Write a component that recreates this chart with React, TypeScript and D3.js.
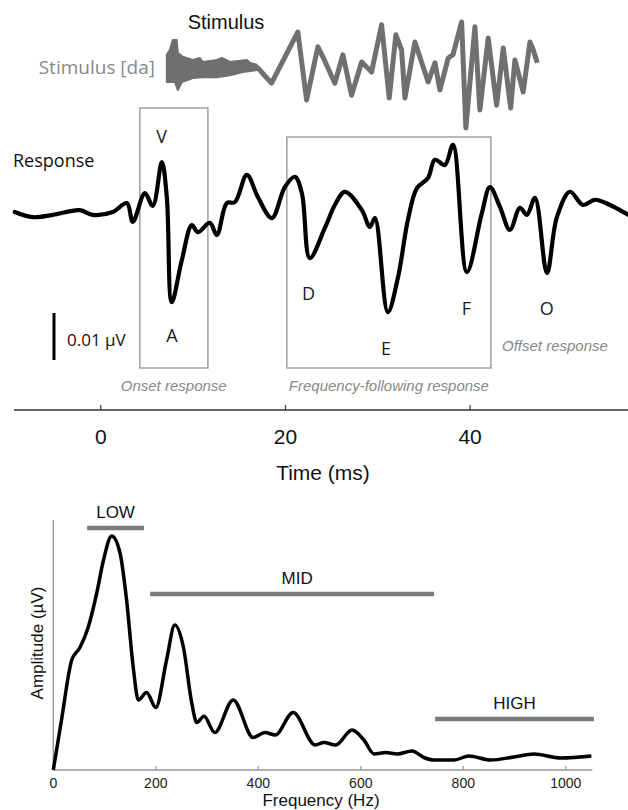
import { useEffect, useRef } from "react";
import * as d3 from "d3";

// stimulus [da]: dense onset burst (upper / lower edge), then the waveform; time in ms
const burstUpperTime = [7.15, 7.48, 7.8, 8.23, 8.34, 8.88, 9.97, 10.73, 11.05, 12.57, 13.11, 13.98, 15.82, 16.14, 16.9];
const burstUpper = [0.33, 0.45, 0.7, 0.7, 0.38, 0.28, 0.2, 0.25, 0.15, 0.2, 0.25, 0.15, 0.2, 0.13, 0.08];
const burstLowerTime = [7.15, 8.02, 8.34, 8.78, 9.97, 11.05, 12.57, 13.98, 15.38, 16.9];
const burstLower = [-0.35, -0.35, -0.55, -0.35, -0.25, -0.23, -0.23, -0.18, -0.1, -0.05];

const stimTime = [16.9, 17.6, 18.49, 21.34, 22.29, 23.51, 24.05, 25.35, 26.22, 27.16, 28.25, 29.33, 30.41, 31.24, 31.96, 32.58, 32.94, 34.02, 35.46, 36.19, 36.73, 37.63, 38.14, 39.08, 39.54, 40.52, 41.06, 41.96, 42.87, 43.59, 44.39, 44.85, 45.75, 46.48, 46.84, 47.27];
const stimValue = [0.03, -0.15, -0.38, 0.9, -0.8, 0.53, 0.28, -0.38, 0.33, -0.68, 0.15, -0.1, 1.08, -0.75, 0.83, 0.45, -0.75, 0.65, -0.35, 0.13, -0.55, 0.25, 0.33, 1.15, -1.5, 1.03, -1.05, 0.75, -0.93, 0.5, -1.0, 0.2, -0.6, 0.65, 0.45, 0.13];

// response (µV)
const respTime = [-9.32, -7.37, -5.2, -2.28, -0.87, 1.3, 2.82, 3.47, 4.77, 5.63, 6.61, 7.15, 7.69, 8.78, 9.86, 10.51, 11.81, 12.57, 13.65, 14.52, 15.82, 17.01, 18.53, 19.93, 21.02, 21.78, 22.64, 24.27, 25.35, 26.44, 28.28, 29.14, 29.69, 31.09, 32.18, 33.26, 34.24, 35.43, 36.19, 37.27, 38.14, 39.65, 41.28, 42.14, 43.23, 44.31, 45.4, 46.15, 47.02, 48.32, 49.4, 50.81, 52.22, 53.52, 55.15, 56.77, 57.1];
const respValue = [0, -0.0011, -0.0006, 0.0004, -0.0006, 0, 0.0019, -0.0021, 0.004, 0.0013, 0.0106, 0.0032, -0.0192, -0.0102, -0.0028, -0.0043, -0.0023, -0.0049, 0.0019, 0.0021, 0.0079, 0.0032, -0.0013, 0.0053, 0.0075, 0.004, -0.0098, -0.0034, 0.0015, 0.0043, 0.0004, -0.0032, -0.0013, -0.0213, -0.014, -0.0017, 0.0051, 0.0072, 0.0111, 0.01, 0.0143, -0.0128, -0.0002, 0.0053, 0.0011, -0.0038, 0.0009, -0.0006, 0.003, -0.013, -0.0011, 0.0043, 0.0015, 0.0026, 0.0015, -0.0002, -0.0006];

const peakNames = ["V", "A", "D", "E", "F", "O"];
const timeTicks = [0, 20, 40];

// spectrum
const freqHz = [0, 16, 36, 52, 68, 85, 98, 114, 130, 143, 156, 166, 182, 200, 221, 237, 254, 270, 280, 294, 315, 351, 390, 413, 433, 468, 511, 528, 551, 583, 606, 626, 649, 671, 700, 723, 743, 782, 811, 853, 899, 938, 990, 1050];
const amplitude = [0, 20, 44, 49, 57, 71, 84, 93.6, 87, 68, 41, 28, 31, 25, 44, 58, 49, 27, 19, 21.5, 15, 28, 13, 15, 14, 23, 10, 11, 10, 16, 12, 6.4, 7, 6.4, 7.6, 5, 4, 4, 5.6, 4, 5.2, 6.4, 4.8, 5.6];
const freqTicks = [0, 200, 400, 600, 800, 1000];

const bandNames = ["LOW", "MID", "HIGH"];
const bandStart = [66, 189, 745];
const bandEnd = [177, 743, 1055];
const bandLevel = [96.8, 70.4, 20.4];

const W = 628;
const H = 810;
const ARIAL = "'Liberation Sans', Arial, sans-serif";
const OPEN = "'Open Sans', 'DejaVu Sans', sans-serif";

export default function App() {
    const svgRef = useRef<SVGSVGElement>(null);

    useEffect(() => {
        const svg = d3.select(svgRef.current);
        svg.selectAll("*").remove();

        const x = d3.scaleLinear().domain([-9.4, 57.1]).range([14, 628]);
        const yStim = d3.scaleLinear().domain([-1.5, 1.15]).range([128, 22]);
        const yResp = d3.scaleLinear().domain([0, 0.01]).range([212, 165]);

        // ---- stimulus
        svg.append("text")
            .attr("x", 226).attr("y", 22)
            .attr("text-anchor", "middle").attr("dominant-baseline", "central")
            .attr("font-family", ARIAL).attr("font-size", 20).attr("fill", "#111")
            .text("Stimulus");
        svg.append("text")
            .attr("x", 155).attr("y", 67)
            .attr("text-anchor", "end").attr("dominant-baseline", "central")
            .attr("font-family", OPEN).attr("font-size", 19).attr("fill", "#888")
            .text("Stimulus  [da]");

        // burst outline: upper edge forward, lower edge back
        const burst = [
            ...burstUpperTime.map((t, i) => [t, burstUpper[i]]),
            ...burstLowerTime.map((t, i) => [t, burstLower[i]]).reverse(),
        ];
        svg.append("path")
            .datum(burst)
            .attr("d", d3.line<any>().x((d) => x(d[0])).y((d) => yStim(d[1])).curve(d3.curveLinearClosed))
            .attr("fill", "#6f6f6f").attr("stroke", "#6f6f6f").attr("stroke-width", 2)
            .attr("stroke-linejoin", "round");

        const stim = stimTime.map((t, i) => ({ t, v: stimValue[i] }));
        svg.append("path")
            .datum(stim)
            .attr("d", d3.line<any>().x((d) => x(d.t)).y((d) => yStim(d.v)))
            .attr("fill", "none").attr("stroke", "#707070").attr("stroke-width", 5)
            .attr("stroke-linejoin", "round");

        // ---- boxes
        const boxes = [
            { t0: 4.23, t1: 11.6, top: 108 },
            { t0: 20.15, t1: 42.25, top: 137 },
        ];
        svg.selectAll(".box").data(boxes).enter().append("rect")
            .attr("x", (d) => x(d.t0)).attr("y", (d) => d.top)
            .attr("width", (d) => x(d.t1) - x(d.t0)).attr("height", (d) => 368 - d.top)
            .attr("fill", "none").attr("stroke", "#a0a0a0").attr("stroke-width", 1.5);

        // ---- response
        svg.append("text")
            .attr("x", 13).attr("y", 160)
            .attr("dominant-baseline", "central")
            .attr("font-family", OPEN).attr("font-size", 18).attr("fill", "#111")
            .text("Response");

        const resp = respTime.map((t, i) => ({ t, v: respValue[i] }));
        svg.append("path")
            .datum(resp)
            .attr("d", d3.line<any>().x((d) => x(d.t)).y((d) => yResp(d.v)).curve(d3.curveCatmullRom.alpha(0.5)))
            .attr("fill", "none").attr("stroke", "#000").attr("stroke-width", 4.2)
            .attr("stroke-linejoin", "round").attr("stroke-linecap", "round");

        const peakPos = [
            { t: 6.6, y: 136 }, { t: 7.7, y: 335 }, { t: 22.5, y: 293 },
            { t: 30.9, y: 348 }, { t: 39.6, y: 308 }, { t: 48.3, y: 308 },
        ];
        svg.selectAll(".peak").data(peakNames).enter().append("text")
            .attr("x", (d, i) => x(peakPos[i].t)).attr("y", (d, i) => peakPos[i].y)
            .attr("text-anchor", "middle").attr("dominant-baseline", "central")
            .attr("font-family", OPEN).attr("font-size", 18).attr("fill", "#1a1a1a")
            .text((d) => d);

        // scale bar 0.01 µV
        svg.append("line")
            .attr("x1", 54).attr("x2", 54)
            .attr("y1", 360).attr("y2", 360 - (yResp(0) - yResp(0.01)))
            .attr("stroke", "#000").attr("stroke-width", 3);
        svg.append("text")
            .attr("x", 67).attr("y", 339)
            .attr("dominant-baseline", "central")
            .attr("font-family", OPEN).attr("font-size", 17).attr("fill", "#111")
            .text("0.01 µV");

        const italic = (tx: number, ty: number, s: string, anchor = "start") =>
            svg.append("text")
                .attr("x", tx).attr("y", ty)
                .attr("text-anchor", anchor).attr("dominant-baseline", "central")
                .attr("font-family", ARIAL).attr("font-style", "italic")
                .attr("font-size", 15).attr("fill", "#888")
                .text(s);
        italic(x(7.9), 385, "Onset response", "middle");
        italic(x(31.2), 385, "Frequency-following response", "middle");
        italic(502, 345, "Offset response");

        // time axis
        const ax = svg.append("g").attr("transform", "translate(0,410)");
        ax.append("line").attr("x1", 14).attr("x2", 628).attr("stroke", "#333").attr("stroke-width", 1.5);
        ax.selectAll(".tk").data(timeTicks).enter().append("line")
            .attr("x1", (d) => x(d)).attr("x2", (d) => x(d)).attr("y1", 0).attr("y2", -5)
            .attr("stroke", "#333").attr("stroke-width", 1.2);
        ax.selectAll(".tl").data(timeTicks).enter().append("text")
            .attr("x", (d) => x(d)).attr("y", 26)
            .attr("text-anchor", "middle").attr("dominant-baseline", "central")
            .attr("font-family", ARIAL).attr("font-size", 21).attr("fill", "#111")
            .text((d) => d);
        svg.append("text")
            .attr("x", 323).attr("y", 472)
            .attr("text-anchor", "middle").attr("dominant-baseline", "central")
            .attr("font-family", ARIAL).attr("font-size", 21).attr("fill", "#111")
            .text("Time (ms)");

        // ---- spectrum
        const xf = d3.scaleLinear().domain([0, 1050]).range([53.3, 591.4]);
        const ya = d3.scaleLinear().domain([0, 100]).range([770, 520]);

        svg.append("line").attr("x1", xf(0)).attr("x2", xf(0)).attr("y1", ya(0)).attr("y2", ya(100))
            .attr("stroke", "#999").attr("stroke-width", 1.5);
        svg.append("line").attr("x1", xf(0)).attr("x2", xf(1050) + 1).attr("y1", ya(0)).attr("y2", ya(0))
            .attr("stroke", "#999").attr("stroke-width", 1.5);
        svg.selectAll(".ftk").data(freqTicks.slice(1)).enter().append("line")
            .attr("x1", (d) => xf(d)).attr("x2", (d) => xf(d))
            .attr("y1", ya(0)).attr("y2", ya(0) - 4)
            .attr("stroke", "#999").attr("stroke-width", 1.2);
        svg.selectAll(".ftl").data(freqTicks).enter().append("text")
            .attr("x", (d) => xf(d)).attr("y", 783)
            .attr("text-anchor", "middle").attr("dominant-baseline", "central")
            .attr("font-family", ARIAL).attr("font-size", 14).attr("fill", "#222")
            .text((d) => d);
        svg.append("text")
            .attr("x", 321).attr("y", 800)
            .attr("text-anchor", "middle").attr("dominant-baseline", "central")
            .attr("font-family", ARIAL).attr("font-size", 17).attr("fill", "#111")
            .text("Frequency (Hz)");
        svg.append("text")
            .attr("transform", "translate(37,643) rotate(-90)")
            .attr("text-anchor", "middle").attr("dominant-baseline", "central")
            .attr("font-family", ARIAL).attr("font-size", 17).attr("fill", "#111")
            .text("Amplitude (µV)");

        // frequency bands
        bandNames.forEach((name, i) => {
            svg.append("line")
                .attr("x1", xf(bandStart[i])).attr("x2", xf(bandEnd[i]))
                .attr("y1", ya(bandLevel[i])).attr("y2", ya(bandLevel[i]))
                .attr("stroke", "#7a7a7a").attr("stroke-width", 4.5);
            svg.append("text")
                .attr("x", (xf(bandStart[i]) + xf(bandEnd[i])) / 2 + (i === 1 ? 5 : 0))
                .attr("y", ya(bandLevel[i]) - 16)
                .attr("text-anchor", "middle").attr("dominant-baseline", "central")
                .attr("font-family", ARIAL).attr("font-size", 17).attr("fill", "#111")
                .text(name);
        });

        const spec = freqHz.map((f, i) => ({ f, a: amplitude[i] }));
        svg.append("path")
            .datum(spec)
            .attr("d", d3.line<any>().x((d) => xf(d.f)).y((d) => ya(d.a)).curve(d3.curveMonotoneX))
            .attr("fill", "none").attr("stroke", "#000").attr("stroke-width", 3.5)
            .attr("stroke-linejoin", "round");
    }, []);

    return (
        <svg ref={svgRef} width={W} height={H}
            style={{ position: "absolute", left: 0, top: 0, background: "#fff" }} />
    );
}
